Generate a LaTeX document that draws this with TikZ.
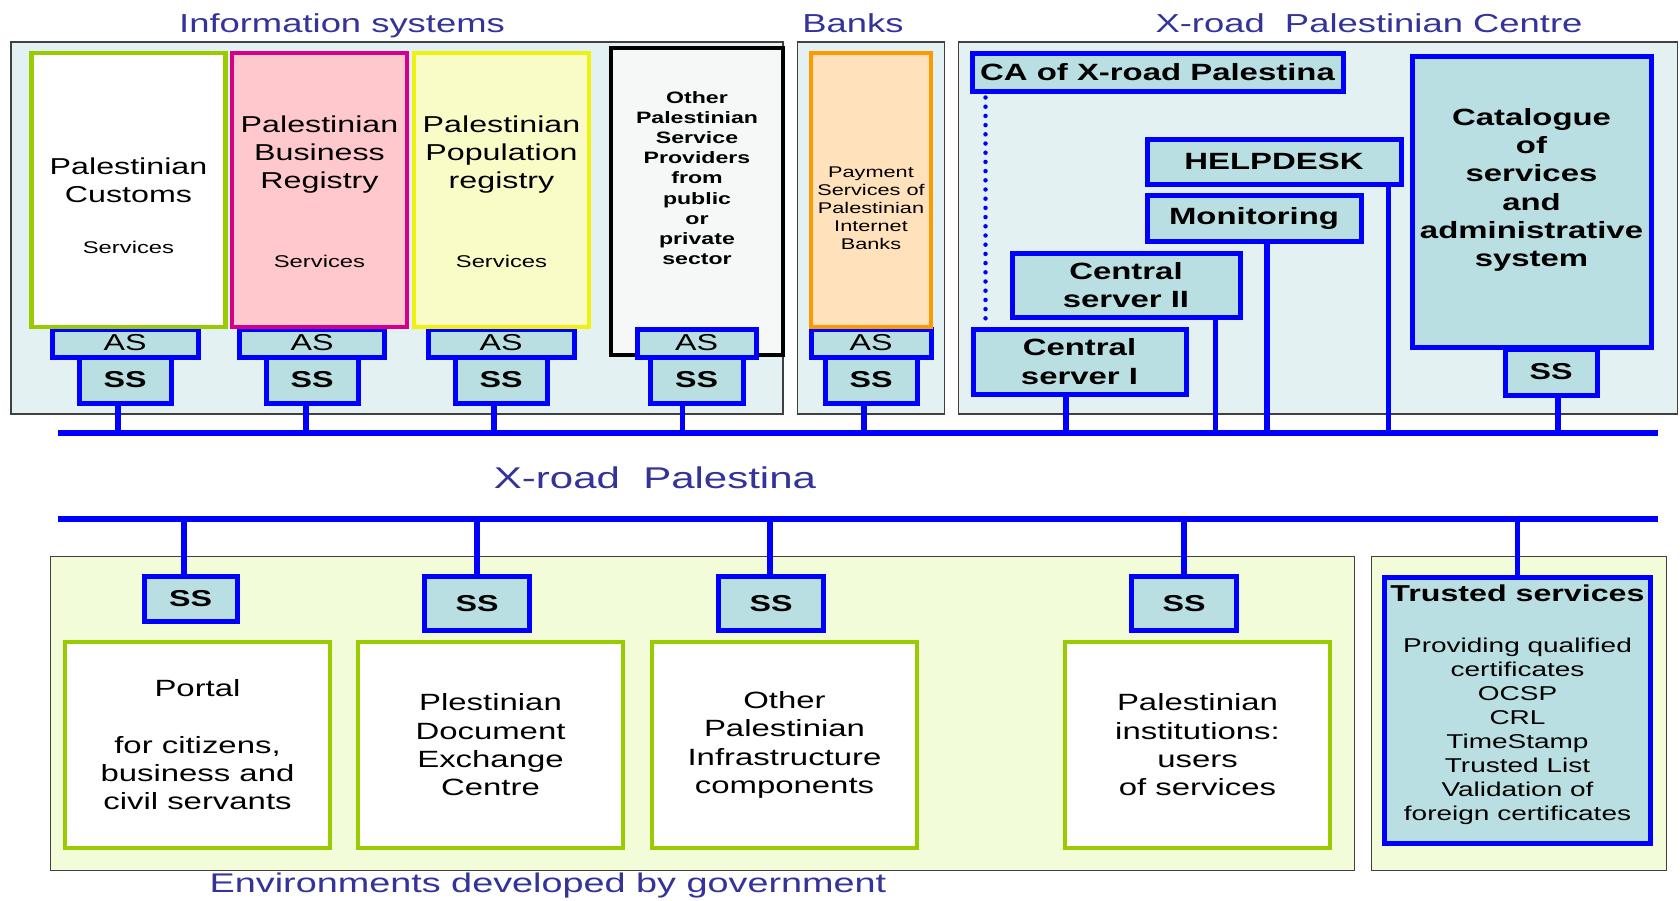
\documentclass[tikz,border=0pt]{standalone}
\usepackage{fontspec}
\setmainfont{Liberation Sans}[FakeStretch=1.4]
\definecolor{panelblue}{HTML}{E3F1F3}
\definecolor{boxteal}{HTML}{B9DFE2}
\definecolor{xblue}{HTML}{0000FF}
\definecolor{titleblue}{HTML}{333399}
\definecolor{envgreen}{HTML}{F2FCD8}
\definecolor{limegreen}{HTML}{99CC00}
\definecolor{magentaline}{HTML}{D4008A}
\definecolor{pinkfill}{HTML}{FFC8CC}
\definecolor{yellowline}{HTML}{EEF20E}
\definecolor{yellowfill}{HTML}{FAFCC8}
\definecolor{orangeline}{HTML}{FF9900}
\definecolor{orangefill}{HTML}{FFE2BC}
\definecolor{otherfill}{HTML}{F6F8F8}

\begin{document}
\begin{tikzpicture}[x=1pt, y=-1pt,
	panel/.style={draw=black!75, line width=1.5, fill=panelblue, inner sep=0},
	sysbox/.style={line width=4.5, inner sep=0},
	bluebox/.style={draw=xblue, line width=5, fill=boxteal, inner sep=0, align=center},
	asbox/.style={bluebox, font=\fontsize{23}{27}\selectfont},
	ssbox/.style={bluebox, font=\bfseries\fontsize{23}{27}\selectfont},
	bigbox/.style={bluebox, font=\bfseries\fontsize{23.5}{28.3}\selectfont},
	envbox/.style={draw=limegreen, line width=4.5, fill=white, inner sep=0, align=center, font=\fontsize{23.5}{28.3}\selectfont},
	heading/.style={text=titleblue, font=\fontsize{26}{30}\selectfont, anchor=base, inner sep=0},
	txt/.style={anchor=north, inner sep=0, align=center},
	svc/.style={anchor=base, inner sep=0, font=\fontsize{17}{20}\selectfont},
	link/.style={draw=xblue, line width=5.5},
	dotlink/.style={draw=xblue, line width=4.5, line cap=round, dash pattern=on 0pt off 9.2pt, shorten <=4pt, shorten >=8pt}]
	\path[fill=white] (0,0) rectangle (1680,900);
	\useasboundingbox (0,0) rectangle (1680,900);

	% panels and their titles
	\node[panel, minimum width=772, minimum height=372] (infopanel) at (397,228) {};
	\node[panel, minimum width=147, minimum height=372] (bankpanel) at (871,228) {};
	\node[panel, minimum width=719, minimum height=372] (centrepanel) at (1318,228) {};
	\node[panel, fill=envgreen, minimum width=1304, minimum height=314] (envpanel) at (702.5,713.5) {};
	\node[panel, fill=envgreen, minimum width=295, minimum height=314] (trustpanel) at (1519,713.5) {};
	\node[heading] (infotitle) at (342,32) {Information systems};
	\node[heading] (banktitle) at (853,32) {Banks};
	\node[heading] (centretitle) at (1369,32) {X-road~~Palestinian Centre};
	\node[heading, font=\fontsize{30}{34}\selectfont] (xroad) at (655,488) {X-road~~Palestina};
	\node[heading, font=\fontsize{27}{31}\selectfont] (envtitle) at (548,892) {Environments developed by government};

	% information systems
	\node[asbox, minimum width=146, minimum height=28] (asA) at (125,343) {AS};
	\node[ssbox, minimum width=92, minimum height=46] (ssA) at (125,380) {SS};
	\node[asbox, minimum width=145.5, minimum height=28] (asB) at (312,343) {AS};
	\node[ssbox, minimum width=92, minimum height=46] (ssB) at (312,380) {SS};
	\node[asbox, minimum width=146, minimum height=28] (asC) at (501,343) {AS};
	\node[ssbox, minimum width=92, minimum height=46] (ssC) at (501,380) {SS};
	\node[asbox, minimum width=120, minimum height=28] (asE) at (871,343) {AS};
	\node[ssbox, minimum width=92, minimum height=46] (ssE) at (871,380) {SS};
	\node[sysbox, draw=limegreen, fill=white, minimum width=194, minimum height=274] (customs) at (128.5,190) {};
	\node[sysbox, draw=magentaline, fill=pinkfill, minimum width=175, minimum height=274] (bizreg) at (319.5,190) {};
	\node[sysbox, draw=yellowline, fill=yellowfill, minimum width=175, minimum height=274] (popreg) at (501.5,190) {};
	\node[sysbox, draw=orangeline, fill=orangefill, minimum width=120, minimum height=274] (payment) at (871,190) {};
	\node[sysbox, draw=black, fill=otherfill, minimum width=172, minimum height=307] (otherprov) at (697,201.5) {};
	\node[asbox, minimum width=119, minimum height=28] (asD) at (696.5,343) {AS};
	\node[ssbox, minimum width=93, minimum height=46] (ssD) at (696.5,380) {SS};

	\node[txt, font=\fontsize{23}{28}\selectfont] (customs-t) at (128.5,157.5) {Palestinian\\Customs};
	\node[svc] (customs-s) at (128.5,253) {Services};
	\node[txt, font=\fontsize{23}{28}\selectfont] (bizreg-t) at (319.5,115.5) {Palestinian\\Business\\Registry};
	\node[svc] (bizreg-s) at (319.5,267) {Services};
	\node[txt, font=\fontsize{23}{28}\selectfont] (popreg-t) at (501.5,115.5) {Palestinian\\Population\\registry};
	\node[svc] (popreg-s) at (501.5,267) {Services};
	\node[txt, font=\bfseries\fontsize{16.5}{20.2}\selectfont] (otherprov-t) at (697,91) {Other\\Palestinian\\Service\\Providers\\from\\public\\or\\private\\sector};
	\node[txt, font=\fontsize{15.5}{18}\selectfont] (payment-t) at (871,167) {Payment\\Services of\\Palestinian\\Internet\\Banks};

	% centre
	\node[bigbox, minimum width=371, minimum height=38] (ca) at (1157.5,72) {CA of X-road Palestina};
	\node[bigbox, minimum width=254, minimum height=45] (helpdesk) at (1274,161.5) {HELPDESK};
	\node[bigbox, minimum width=214, minimum height=46] (monitor) at (1254,218) {Monitoring};
	\node[bigbox, minimum width=228, minimum height=64] (cs2) at (1126,285) {Central\\server II};
	\node[bigbox, minimum width=213, minimum height=65] (cs1) at (1079.5,361.5) {Central\\server I};
	\node[ssbox, minimum width=92, minimum height=46] (ssK) at (1551,372) {SS};
	\node[bluebox, minimum width=239, minimum height=291] (catalog) at (1531.5,201.5) {};
	\node[txt, font=\bfseries\fontsize{23.5}{28.3}\selectfont] (catalog-t) at (1531.5,108) {Catalogue\\of\\services\\and\\administrative\\system};
	\draw[dotlink] ([xshift=16]ca.south west) -- ([xshift=15]cs1.north west);

	% X-road buses
	\coordinate (upL) at (58,433);
	\coordinate (upR) at (1658,433);
	\coordinate (loL) at (58,519);
	\coordinate (loR) at (1658,519);
	\draw[link] (upL) -- (upR);
	\draw[link] (loL) -- (loR);
	\foreach \n/\dx in {ssA.south/-7, ssB.south/-6, ssC.south/-7, ssD.south/-14, ssE.south/-7, ssK.south/7, cs1.south/-13.5, cs2.south east/-27, monitor.south/13, helpdesk.south east/-15}
		\draw[link] ([xshift=\dx]\n) -- ([xshift=\dx]\n |- upL);

	% environments developed by government
	\node[ssbox, minimum width=93, minimum height=45.5] (ssP) at (190.5,599) {SS};
	\node[ssbox, minimum width=105.5, minimum height=54.5] (ssQ) at (477,603.5) {SS};
	\node[ssbox, minimum width=105.5, minimum height=54.5] (ssR) at (771,603.5) {SS};
	\node[ssbox, minimum width=105.5, minimum height=54.5] (ssS) at (1184,603.5) {SS};
	\node[envbox, minimum width=265, minimum height=206] (portal) at (197.5,745) {Portal\\[28pt]for citizens,\\business and\\civil servants};
	\node[envbox, minimum width=265, minimum height=206] (docx) at (490.5,745) {Plestinian\\Document\\Exchange\\Centre};
	\node[envbox, minimum width=265, minimum height=206] (infra) at (784.5,745) {Other\\Palestinian\\Infrastructure\\components};
	\node[envbox, minimum width=265, minimum height=206] (users) at (1197.5,745) {Palestinian\\institutions:\\users\\of services};

	% trusted services
	\node[bluebox, minimum width=266.5, minimum height=266.5] (trusted) at (1517.5,710.5) {};
	\node[anchor=base, inner sep=0, font=\bfseries\fontsize{23}{27}\selectfont] (trusted-t) at (1517.5,601) {Trusted services};
	\node[txt, font=\fontsize{20}{24}\selectfont] (trusted-l) at (1517.5,637.7) {Providing qualified\\certificates\\OCSP\\CRL\\TimeStamp\\Trusted List\\Validation of\\foreign certificates};

	\foreach \n/\dx in {ssP/-6.5, ssQ/0, ssR/-1, ssS/0, trusted/0}
		\draw[link] ([xshift=\dx]\n.north |- loL) -- ([xshift=\dx]\n.north);
\end{tikzpicture}
\end{document}
